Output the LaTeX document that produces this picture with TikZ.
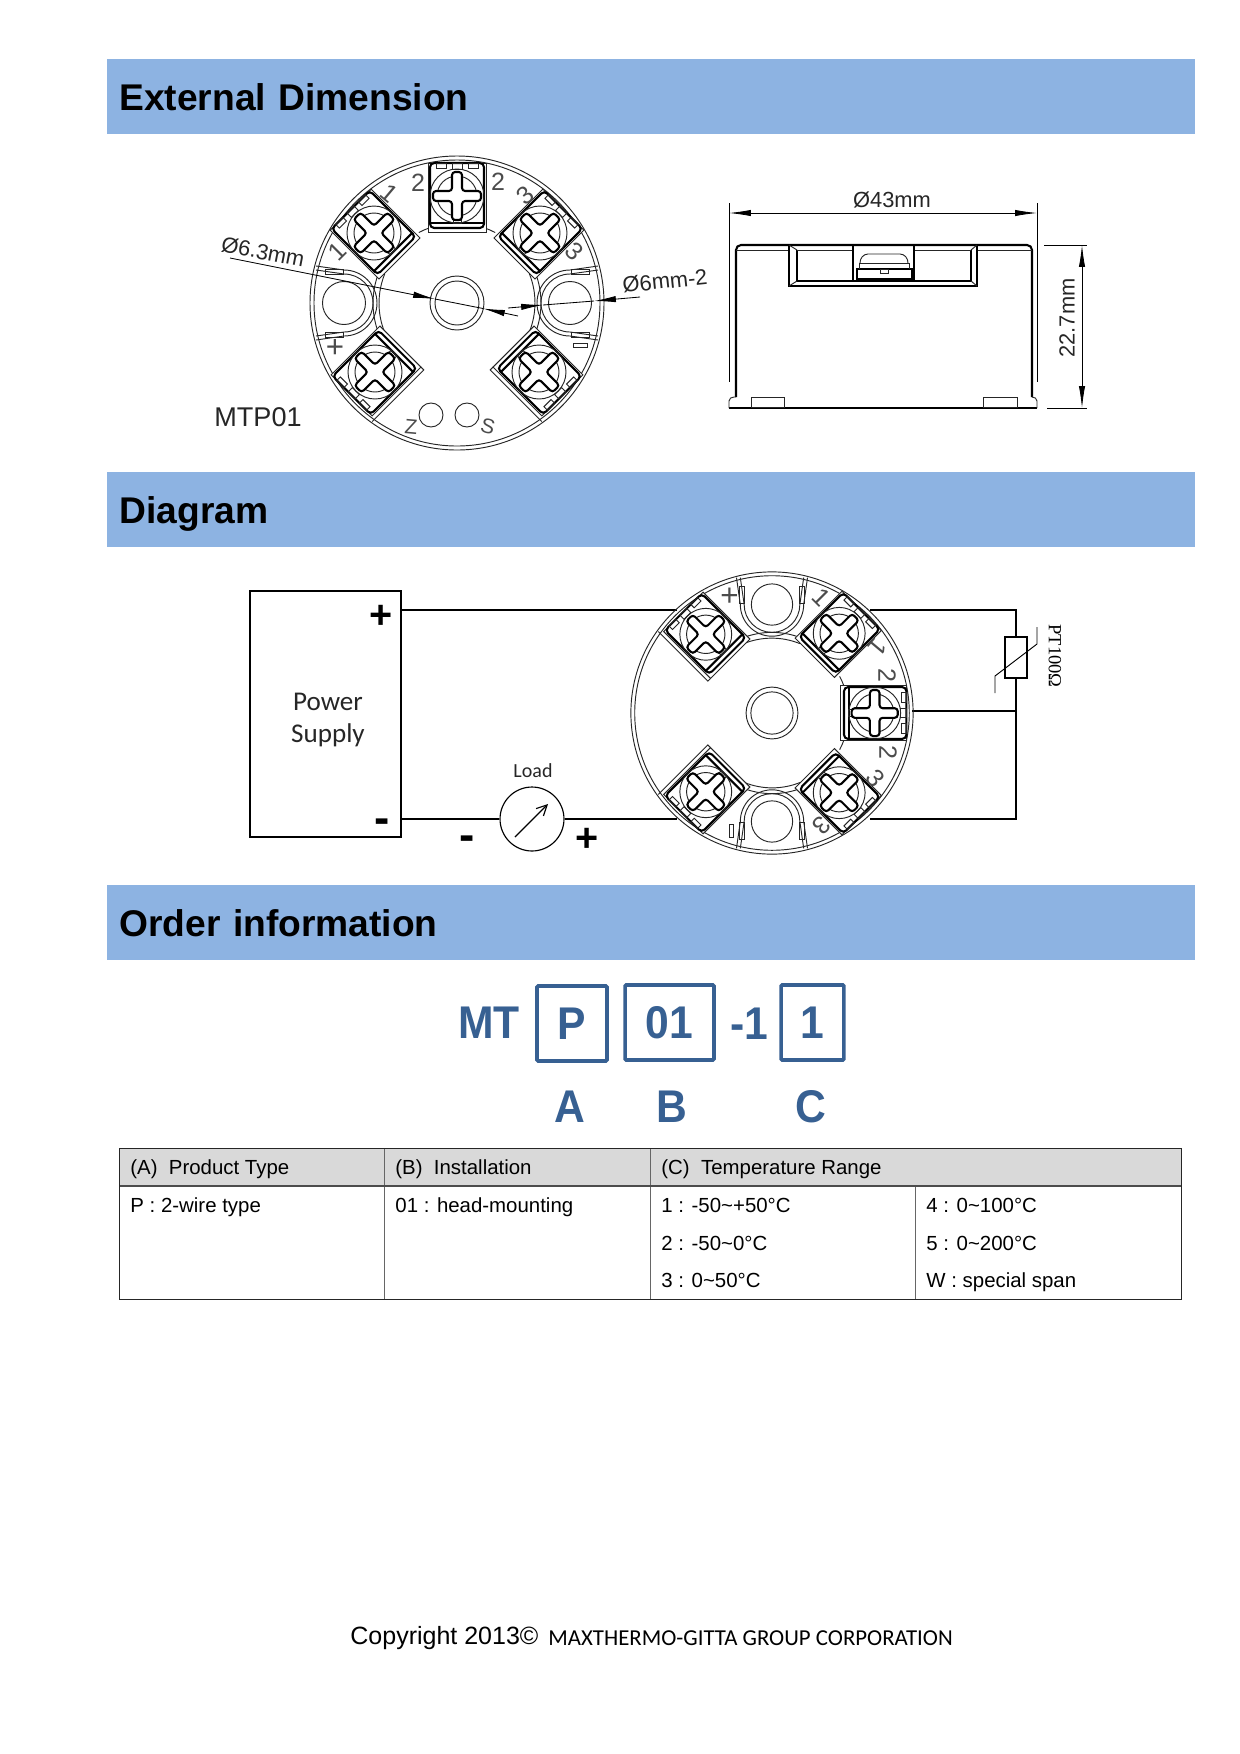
\documentclass[tikz,border=0pt]{standalone}
\usepackage{fontspec}
\setmainfont{Liberation Sans}
\newfontfamily\califont{Carlito}
\newfontfamily\serffont{Liberation Serif}
\usetikzlibrary{arrows.meta}
\definecolor{bandblue}{HTML}{8DB3E2}
\definecolor{orderblue}{HTML}{376092}
\definecolor{headgray}{HTML}{D9D9D9}
\tikzset{
    bandbox/.style={fill=bandblue, anchor=west, inner ysep=0pt, inner xsep=5.76pt,
        text width=510.72pt, minimum height=36pt, text height=13pt, text depth=0pt,
        font=\fontsize{17.85}{20}\selectfont\bfseries},
    thinline/.style={line width=0.45pt, black!85},
    boldline/.style={line width=1pt},
    dimtext/.style={font=\fontsize{10.5}{12}\selectfont, black!85, inner sep=0pt},
    platetext/.style={font=\fontsize{12}{12}\selectfont, black!70, inner sep=0pt},
    dimline/.style={line width=0.4pt},
    dimtip/.style={-{Latex[length=10.5pt,width=3pt]}, line width=0.4pt},
    wire/.style={line width=0.55pt},
    signtext/.style={font=\fontsize{19}{20}\selectfont\bfseries, inner sep=0pt},
    dashtext/.style={font=\fontsize{22}{24}\selectfont\bfseries, inner sep=0pt},
    codebox/.style={draw=orderblue, line width=1.7pt, rounded corners=0.5pt},
    codetext/.style={font=\fontsize{22}{24}\selectfont\bfseries, text=orderblue, inner sep=0pt,
        xscale=0.93, transform shape},
    cellhead/.style={font=\fontsize{9.8}{11}\selectfont, anchor=west, inner sep=0pt,
        text height=7pt, text depth=0pt},
    cellitem/.style={cellhead},
}
\newcommand{\screwterm}[3]{%
    \begin{scope}[shift={(#1,#2)},rotate=#3]
        \draw[thinline, fill=white] (-29,-36) rectangle (29,33);
        \draw[boldline, rounded corners=2pt] (-27,-32) rectangle (27,33);
        \draw[boldline] (-27,-27) -- (27,-27);
        \draw[thinline] (-5,27) rectangle (5,33);
        \draw[thinline] (-21,28) rectangle (-11,33);
        \draw[thinline] (11,28) rectangle (21,33);
        \draw[thinline] (-4,-27) rectangle (4,-24);
        \draw[thinline] (0,0) circle (27);
        \draw[thinline] (0,0) circle (20);
        \draw[boldline, fill=white, rounded corners=1.5pt]
            (-5,5) -- (-5,24) -- (5,24) -- (5,5) -- (24,5) -- (24,-5) -- (5,-5)
            -- (5,-24) -- (-5,-24) -- (-5,-5) -- (-24,-5) -- (-24,5) -- cycle;
    \end{scope}
}
\newcommand{\wirehole}[1]{%
    \begin{scope}[rotate=#1]
        \draw[thinline] (113,0) circle (21.5);
        \draw[thinline] (141,37) -- (113,33) arc (90:270:33) -- (141,-37);
        \draw[thinline] (141,33) -- (113,29) arc (90:270:29) -- (141,-33);
        \draw[thinline] (114,29) rectangle (132,34);
        \draw[thinline] (114,-29) rectangle (132,-34);
    \end{scope}
}
% #1 name, #2 x, #3 y, #4 scale, #5 rotation
\newcommand{\headplate}[5]{%
    \begin{scope}[shift={(#2,#3)},x=#4*0.48pt,y=#4*0.48pt,rotate=#5]
        \draw[thinline] (0,0) circle (147);
        \draw[thinline] (0,0) circle (143);
        \draw[thinline] (0,0) circle (27);
        \draw[thinline] (0,0) circle (22);
        \wirehole{0}
        \wirehole{180}
        \foreach \ra in {0,180} {
            \begin{scope}[rotate=\ra]
                \draw[thinline] (72.3,-29) arc (-22:22:78);
                \draw[thinline] (78.4,-30) arc (-21:21:84);
            \end{scope}
        }
        \draw[thinline] (-28,75) arc (110:118:80);
        \draw[thinline] (28,75) arc (70:62:80);
        \foreach \tx/\ty/\ta in {0/107/0, 83/70/-45, -83/70/45, 82/-69/-135, -82/-69/135} {
            \screwterm{\tx}{\ty}{\ta}
        }
        \begin{scope}[shift={(82,-69)},rotate=-135]
            \draw[thinline] (29,-36) -- (33,-36) -- (33,37);
        \end{scope}
        \begin{scope}[shift={(-82,-69)},rotate=135]
            \draw[thinline] (-29,-36) -- (-33,-36) -- (-33,37);
        \end{scope}
        \node[platetext, rotate=#5] (#1-twoa) at (-39,120) {2};
        \node[platetext, rotate=#5] (#1-twob) at (41,121) {2};
        \node[platetext, rotate=#5-40] (#1-onea) at (-68,110) {1};
        \node[platetext, rotate=#5+45] (#1-oneb) at (-120,52) {1};
        \node[platetext, rotate=#5+40] (#1-threea) at (68,108) {3};
        \node[platetext, rotate=#5-45] (#1-threeb) at (117,52) {3};
        \node[platetext, font=\fontsize{15}{15}\selectfont, rotate=#5] (#1-plus) at (-122,-45) {+};
        \draw[thinline] (116,-40) rectangle (130,-44);
    \end{scope}
}
\begin{document}
\begin{tikzpicture}[x=0.48pt,y=-0.48pt]
    \useasboundingbox (0,0) rectangle (1240,1754);

    \node[bandbox] (banddim) at (107,96.5) {External Dimension};
    \node[bandbox] (banddiag) at (107,509.5) {Diagram};
    \node[bandbox] (bandorder) at (107,922.5) {Order information};

    \headplate{topplate}{457}{303}{1}{0}
    \draw[thinline] (431,415) circle (12);
    \draw[thinline] (467,415) circle (12);
    \node[platetext, font=\fontsize{10}{10}\selectfont, rotate=-5] (zlabel) at (411,427) {Z};
    \node[platetext, font=\fontsize{10}{10}\selectfont, rotate=-15] (slabel) at (488,426) {S};
    \node[inner sep=0pt, font=\fontsize{13}{14}\selectfont, black!85] (mtplabel) at (258,417) {MTP01};

    \coordinate (holea) at (230,258);
    \coordinate (holeb) at (435,299);
    \coordinate (holec) at (483,308.5);
    \coordinate (holed) at (518,316);
    \draw[dimtip] (holea) -- (holeb);
    \draw[dimtip] (holed) -- (holec);
    \draw[dimline] (holeb) -- (holec);
    \node[dimtext, rotate=-11] (holelabel) at (263,252) {Ø6.3mm};

    \coordinate (slota) at (508,308);
    \coordinate (slotb) at (543,305);
    \coordinate (slotc) at (594,301);
    \coordinate (slotd) at (640,297);
    \draw[dimtip] (slota) -- (slotb);
    \draw[dimtip] (slotd) -- (slotc);
    \draw[dimline] (slotb) -- (slotc);
    \node[dimtext, rotate=6] (slotlabel) at (665,281) {Ø6mm-2};

    % side view
    \draw[dimline] (729,203) -- (729,382);
    \draw[dimline] (1037,203) -- (1037,382);
    \coordinate (widtha) at (729,213);
    \coordinate (widthb) at (1037,213);
    \draw[dimtip] (891,213) -- (widtha);
    \draw[dimtip] (891,213) -- (widthb);
    \node[dimtext] (widthlabel) at (892,200) {Ø43mm};
    \draw[boldline] (736,397) -- (736,250) to[out=90,in=180] (741,245) -- (1027,245)
        to[out=0,in=90] (1032,250) -- (1032,397);
    \draw[thinline] (736,250) -- (789,250);
    \draw[thinline] (977,250) -- (1032,250);
    \draw[boldline] (729,408) -- (1037,408);
    \draw[thinline] (729,408) -- (729,401) to[out=90,in=180] (734,397) -- (736,397);
    \draw[thinline] (1037,408) -- (1037,401) to[out=90,in=0] (1032,397);
    \draw[thinline] (751,407) rectangle (784,397);
    \draw[thinline] (983,407) rectangle (1017,397);
    \draw[boldline] (789,245) -- (789,286) -- (977,286) -- (977,245);
    \draw[boldline] (797,250) -- (797,281) -- (971,281) -- (971,250);
    \draw[thinline] (797,250) -- (789,245);
    \draw[thinline] (971,250) -- (977,245);
    \draw[thinline] (797,281) -- (789,286);
    \draw[thinline] (971,281) -- (977,286);
    \draw[thinline] (797,250) -- (852,250);
    \draw[thinline] (915,250) -- (971,250);
    \draw[boldline] (853,245) -- (853,281);
    \draw[boldline] (914,245) -- (914,281);
    \draw[boldline] (857,269) rectangle (912,279);
    \draw[thinline] (859,269) -- (859,263) -- (909,263) -- (909,269);
    \draw[thinline] (860,263) to[out=90,in=180] (868,254) -- (900,254) to[out=0,in=90] (908,263);
    \draw[thinline] (880,269) rectangle (888,273);
    \draw[dimline] (1044,245) -- (1087,245);
    \draw[dimline] (1047,408) -- (1087,408);
    \coordinate (heighta) at (1082,245);
    \coordinate (heightb) at (1082,408);
    \draw[dimtip] (1082,326) -- (heighta);
    \draw[dimtip] (1082,326) -- (heightb);
    \node[dimtext, rotate=90] (heightlabel) at (1067,318) {22.7mm};

    % wiring
    \node[draw, line width=1pt, minimum width=72.5pt, minimum height=118pt, inner sep=0pt] (psu) at (325.5,714) {};
    \node[inner sep=0pt, align=center, black!85, font=\califont\fontsize{13}{15.5}\selectfont] (psulabel) at (328,720) {Power\\Supply};
    \node[signtext] (psuplus) at (381,617) {+};
    \node[dashtext] (psuminus) at (382,826) {-};
    \node[draw, circle, line width=0.55pt, minimum size=30.7pt, inner sep=0pt] (load) at (532,819) {};
    \node[inner sep=0pt, font=\califont\fontsize{9.6}{11}\selectfont, black!85] (loadlabel) at (533,771) {Load};
    \node[dashtext] (loadminus) at (467,843) {-};
    \node[signtext] (loadplus) at (587,840) {+};
    \coordinate (needlea) at (515,837);
    \coordinate (needleb) at (548,804);
    \draw[-{Straight Barb[length=5pt,width=5pt]}, line width=0.55pt] (needlea) -- (needleb);

    \node[draw, fill=white, line width=0.55pt, minimum width=10.5pt, minimum height=19.7pt, inner sep=0pt] (rtd) at (1016,657.5) {};
    \coordinate (plusin) at (677,610);
    \coordinate (minusin) at (677,819);
    \coordinate (onein) at (870,610);
    \coordinate (twoin) at (912,711);
    \coordinate (threein) at (870,819);
    \coordinate (cornerone) at (1016,610);
    \coordinate (cornertwo) at (1016,711);
    \coordinate (cornerthree) at (1016,819);
    \draw[wire] (psu.east |- plusin) -- (plusin);
    \draw[wire] (psu.east |- minusin) -- (load);
    \draw[wire] (load) -- (minusin);
    \draw[wire] (onein) -- (cornerone) -- (rtd.north);
    \draw[wire] (rtd.south) -- (cornerthree) -- (threein);
    \draw[wire] (twoin) -- (cornertwo);
    \coordinate (rtda) at (995,693);
    \coordinate (rtdb) at (995,676);
    \coordinate (rtdc) at (1037,644);
    \coordinate (rtdd) at (1037,627);
    \draw[line width=0.45pt] (rtda) -- (rtdb) -- (rtdc) -- (rtdd);
    \node[inner sep=0pt, rotate=-90, font=\serffont\fontsize{8.9}{10}\selectfont] (rtdlabel) at (1055,656) {PT100Ω};
    \headplate{wireplate}{772}{713}{0.96}{-90}

    % order code
    \node[codetext] (codemt) at (489,1023) {MT};
    \node[codebox, minimum width=33.6pt, minimum height=36pt] (boxp) at (572,1023.5) {};
    \node[codebox, minimum width=42.7pt, minimum height=36pt] (boxnum) at (669.5,1022.5) {};
    \node[codebox, minimum width=30.2pt, minimum height=36pt] (boxspan) at (812.5,1022.5) {};
    \node[codetext] (codep) at (boxp) {P};
    \node[codetext] (codenum) at (boxnum) {01};
    \node[codetext] (codedash) at (749,1024) {-1};
    \node[codetext] (codespan) at (boxspan) {1};
    \node[codetext] (lettera) at (570,1107) {A};
    \node[codetext] (letterb) at (672,1107) {B};
    \node[codetext] (letterc) at (811,1107) {C};

    % table
    \fill[headgray] (119,1148) rectangle (1181,1186);
    \draw[line width=0.4pt, black!60] (384,1148) -- (384,1299);
    \draw[line width=0.4pt, black!60] (650,1148) -- (650,1299);
    \draw[line width=0.4pt, black!60] (915,1186) -- (915,1299);
    \draw[line width=0.5pt, black!70] (119,1186) -- (1181,1186);
    \draw[line width=0.4pt, black!85] (119,1148) rectangle (1181,1299);
    \node[cellhead] (heada) at (130,1167) {(A)\ \ Product Type};
    \node[cellhead] (headb) at (395,1167) {(B)\ \ Installation};
    \node[cellhead] (headc) at (661,1167) {(C)\ \ Temperature Range};
    \node[cellitem] (itemp) at (130,1205) {P : 2-wire type};
    \node[cellitem] (itemhead) at (395,1205) {01 : head-mounting};
    \node[cellitem] (rangea) at (661,1205) {1 : -50\textasciitilde+50°C};
    \node[cellitem] (rangeb) at (661,1243) {2 : -50\textasciitilde0°C};
    \node[cellitem] (rangec) at (661,1280) {3 : 0\textasciitilde50°C};
    \node[cellitem] (ranged) at (926,1205) {4 : 0\textasciitilde100°C};
    \node[cellitem] (rangee) at (926,1243) {5 : 0\textasciitilde200°C};
    \node[cellitem] (rangew) at (926,1280) {W : special span};

    \node[inner sep=0pt, anchor=west, font=\fontsize{12}{14}\selectfont] (copyyear) at (350,1638) {Copyright 2013©};
    \node[inner sep=0pt, anchor=west, font=\califont\fontsize{10.95}{14}\selectfont] (copyname) at (548,1638) {MAXTHERMO-GITTA GROUP CORPORATION};
\end{tikzpicture}
\end{document}
